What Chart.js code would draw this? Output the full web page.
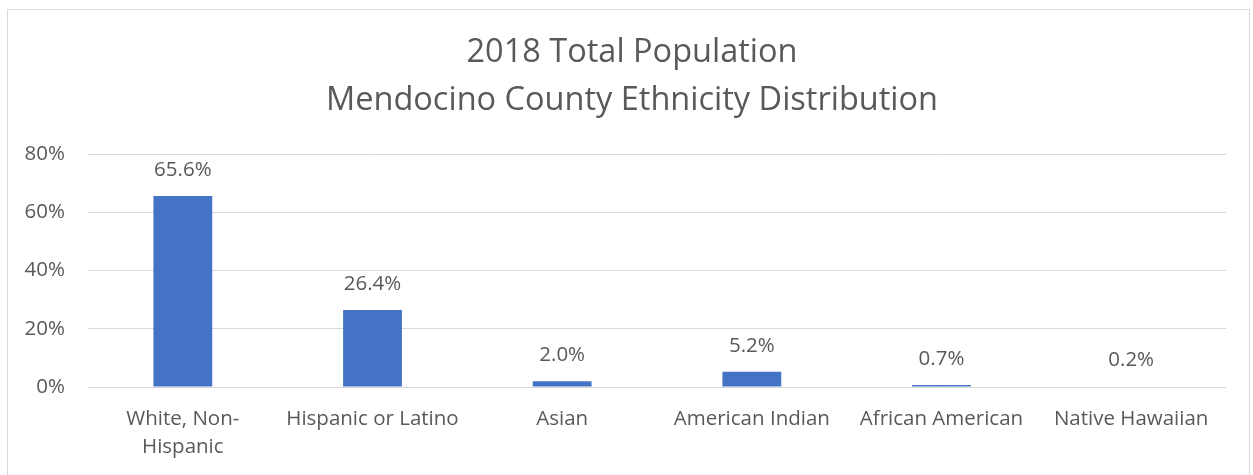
<!DOCTYPE html>
<html>
<head>
<meta charset="utf-8">
<script src="https://cdn.jsdelivr.net/npm/chart.js@4"></script>
<style>
html,body{margin:0;padding:0;background:#fff;}
#wrap{position:relative;width:1253px;height:475px;}
</style>
</head>
<body>
<div id="wrap"><canvas id="c" width="1253" height="475"></canvas></div>
<script>
const categories = [["White, Non-", "Hispanic"], "Hispanic or Latino", "Asian", "American Indian", "African American", "Native Hawaiian"];
const values = [65.6, 26.4, 2.0, 5.2, 0.7, 0.2];
const titleLines = ["2018 Total Population", "Mendocino County Ethnicity Distribution"];
const yTicks = [0, 20, 40, 60, 80];

const FONT = "'Open Sans', 'Noto Sans', sans-serif";
const TXT = "#595959";

const framePlugin = {
  id: 'frame',
  beforeDraw(chart) {
    const ctx = chart.ctx;
    ctx.save();
    ctx.fillStyle = '#fff';
    ctx.fillRect(0, 0, chart.width, chart.height);
    ctx.strokeStyle = '#d9d9d9';
    ctx.lineWidth = 1;
    ctx.strokeRect(7.5, 9.5, 1242, 500);
    ctx.font = "32.5px " + FONT;
    ctx.fillStyle = TXT;
    ctx.textAlign = 'center';
    ctx.textBaseline = 'middle';
    titleLines.forEach((t, i) => ctx.fillText(t, 632, 53 + i * 48));
    ctx.restore();
  }
};

const labelPlugin = {
  id: 'valueLabels',
  afterDatasetsDraw(chart) {
    const ctx = chart.ctx;
    const meta = chart.getDatasetMeta(0);
    ctx.save();
    ctx.font = "20.5px " + FONT;
    ctx.fillStyle = TXT;
    ctx.textAlign = 'center';
    ctx.textBaseline = 'middle';
    meta.data.forEach((bar, i) => {
      ctx.fillText(values[i].toFixed(1) + '%', bar.x, bar.y - 26);
    });
    ctx.restore();
  }
};

new Chart(document.getElementById('c'), {
  type: 'bar',
  data: {
    labels: categories,
    datasets: [{
      data: values,
      backgroundColor: '#4472C4',
      categoryPercentage: 1,
      barPercentage: 0.31
    }]
  },
  options: {
    responsive: false,
    animation: false,
    devicePixelRatio: 1,
    layout: { padding: { top: 154, left: 0, right: 27, bottom: 0 } },
    plugins: {
      legend: { display: false },
      tooltip: { enabled: false },
      title: { display: false }
    },
    scales: {
      x: {
        grid: { display: false, drawTicks: false },
        border: { display: false },
        ticks: {
          color: TXT,
          font: { family: FONT, size: 20.5, lineHeight: 1.37 },
          padding: 18,
          maxRotation: 0,
          autoSkip: false
        },
        afterFit(scale) { scale.height = 88; }
      },
      y: {
        min: 0,
        max: 80,
        afterBuildTicks(scale) { scale.ticks = yTicks.map(v => ({ value: v })); },
        grid: { color: '#d9d9d9', drawTicks: false, lineWidth: 1 },
        border: { display: false },
        ticks: {
          color: TXT,
          font: { family: FONT, size: 20.5 },
          padding: 23,
          callback: v => v + '%'
        },
        afterFit(scale) { scale.width = 88; }
      }
    }
  },
  plugins: [framePlugin, labelPlugin]
});
</script>
</body>
</html>
